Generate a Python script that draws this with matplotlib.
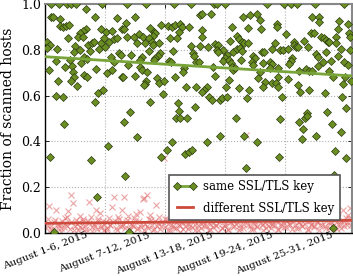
import matplotlib
matplotlib.use("Agg")
import matplotlib.pyplot as plt
from matplotlib.lines import Line2D

plt.rcParams['font.family'] = ['DejaVu Serif']

# x in days since August 1, 2015
same_x = [0.6, 1.4, 2.2, 2.6, 3.1, 5.7, 4.07, 0.63, 0.83, 1.5, 4.97, 7.17, 1.5, 1.83, 2.13, 2.4,
          4.13, 3.8, 3.5, 3.3, 3.83, 5.63, 6.07, 6.73, 7.73, 2.33, 0.23, 0.47, 0.17, 1.17, 3.0,
          2.9, 3.5, 4.33, 4.73, 4.9, 5.57, 5.9, 6.4, 6.9, 7.23, 5.4, 6.0, 4.5, 7.4, 7.63, 6.57,
          6.9, 1.07, 2.5, 3.9, 3.57, 4.23, 0.37, 1.97, 2.73, 2.83, 2.9, 5.13, 6.17, 6.67, 7.67,
          3.9, 4.17, 1.3, 2.63, 3.23, 5.33, 5.83, 1.13, 1.77, 5.0,
          8.2, 10.1, 12.87, 14.63, 8.97, 15.53, 8.1, 7.87, 11.63, 12.3, 12.7, 12.97, 13.53, 13.7,
          14.37, 13.43, 10.53, 10.87, 11.03, 10.77, 8.2, 8.87, 9.37, 9.77, 10.37, 9.2, 10.03,
          10.7, 10.8, 11.37, 12.47, 13.2, 14.6, 15.53, 10.37, 12.8, 8.6, 11.53, 11.3, 11.03,
          10.87, 14.8, 14.87, 9.7, 9.53, 15.1, 15.43, 12.37, 12.6, 8.27, 9.53, 9.7, 10.2, 13.87,
          13.77, 7.8, 9.03, 13.03, 10.1, 9.97, 9.87, 11.2, 11.37, 11.87, 14.13, 15.13, 11.77,
          10.53, 13.3, 15.03, 8.53, 13.37, 13.1, 13.53, 14.2,
          16.9, 17.23, 18.0, 22.17, 15.67, 16.57, 19.77, 20.5, 21.17, 21.5, 23.17, 18.73, 20.33,
          21.57, 15.67, 19.23, 19.43, 19.67, 19.93, 20.33, 18.5, 23.0, 15.67, 16.33, 17.0, 17.33,
          17.17, 17.83, 17.27, 18.83, 19.17, 19.5, 19.67, 21.67, 21.93, 22.67, 18.17, 18.0, 17.77,
          18.43, 18.57, 19.57, 20.83, 21.0, 20.67, 20.77, 21.83, 22.5, 22.67, 22.5, 16.83, 18.67,
          18.83, 19.0, 23.33, 21.5, 21.33, 17.0, 23.33, 18.43, 22.0, 22.67, 23.1, 21.83, 16.17,
          15.9, 15.73, 18.1, 19.43, 20.43, 16.43, 16.67, 17.5, 17.67, 18.23, 20.17, 19.1,
          23.93, 24.6, 25.17, 27.03, 29.93, 26.7, 27.43, 27.43, 29.37, 30.27, 23.2, 24.1, 26.6,
          26.93, 29.27, 29.1, 30.37, 30.5, 27.6, 27.93, 28.1, 28.27, 28.43, 25.93, 26.27, 29.1,
          24.93, 24.93, 25.1, 25.27, 23.5, 23.83, 24.27, 29.6, 30.5, 28.1, 27.1, 27.27, 29.27,
          24.7, 24.6, 24.43, 27.77, 28.6, 29.93, 27.27, 26.1, 26.37, 26.7, 25.43, 28.37, 30.27,
          24.27, 28.77, 30.03, 23.27, 25.27, 29.77, 30.6, 25.5, 26.37, 28.03, 29.7, 23.7, 30.1,
          28.17, 26.17, 26.03, 23.5,
          1.9, 0.5, 4.63, 6.3, 7.9, 8.0, 5.17, 9.17, 11.6, 12.17, 12.67, 14.03, 14.37, 14.7,
          8.37, 0.85, 16.17, 17.5, 19.9, 21.23, 23.43, 20.1, 25.37, 26.2, 25.83, 25.7, 27.1,
          28.7, 29.6, 29.03, 30.1, 28.93, 28.83]
same_y = [1.0, 1.0, 1.0, 1.0, 1.0, 1.0, 0.978, 0.943, 0.943, 0.935, 0.945, 0.938, 0.905, 0.899,
          0.905, 0.910, 0.891, 0.883, 0.874, 0.855, 0.855, 0.893, 0.877, 0.881, 0.890, 0.851,
          0.836, 0.821, 0.807, 0.803, 0.817, 0.792, 0.800, 0.821, 0.829, 0.836, 0.832, 0.851,
          0.836, 0.846, 0.851, 0.803, 0.814, 0.796, 0.785, 0.778, 0.770, 0.748, 0.751, 0.756,
          0.768, 0.741, 0.759, 0.712, 0.724, 0.730, 0.705, 0.683, 0.716, 0.700, 0.712, 0.683,
          0.690, 0.680, 0.665, 0.665, 0.643, 0.613, 0.625, 0.598, 0.595, 0.571,
          1.0, 1.0, 1.0, 1.0, 0.943, 0.953, 0.919, 0.890, 0.909, 0.905, 0.902, 0.909, 0.913,
          0.899, 0.902, 0.880, 0.895, 0.877, 0.873, 0.861, 0.855, 0.855, 0.868, 0.855, 0.851,
          0.829, 0.829, 0.833, 0.821, 0.832, 0.851, 0.853, 0.817, 0.817, 0.795, 0.796, 0.778,
          0.785, 0.773, 0.763, 0.756, 0.785, 0.773, 0.770, 0.756, 0.746, 0.746, 0.751, 0.746,
          0.734, 0.726, 0.712, 0.705, 0.719, 0.705, 0.683, 0.687, 0.683, 0.664, 0.651, 0.646,
          0.676, 0.654, 0.665, 0.639, 0.636, 0.607, 0.573, 0.569, 0.551, 0.527, 0.534, 0.501,
          0.501, 0.501,
          1.0, 1.0, 1.0, 1.0, 0.957, 0.957, 0.943, 0.953, 0.956, 0.931, 0.913, 0.899, 0.895,
          0.891, 0.887, 0.861, 0.846, 0.836, 0.829, 0.832, 0.839, 0.829, 0.858, 0.814, 0.825,
          0.821, 0.800, 0.800, 0.790, 0.792, 0.803, 0.807, 0.796, 0.792, 0.792, 0.803, 0.778,
          0.763, 0.751, 0.756, 0.744, 0.756, 0.775, 0.763, 0.748, 0.734, 0.741, 0.748, 0.738,
          0.719, 0.726, 0.726, 0.712, 0.719, 0.719, 0.705, 0.678, 0.687, 0.683, 0.668, 0.661,
          0.654, 0.654, 0.639, 0.636, 0.625, 0.617, 0.639, 0.632, 0.625, 0.595, 0.581, 0.581,
          0.588, 0.595, 0.588, 0.501,
          1.0, 1.0, 1.0, 1.0, 1.0, 0.943, 0.943, 0.923, 0.928, 0.913, 0.899, 0.868, 0.873,
          0.873, 0.890, 0.858, 0.873, 0.858, 0.855, 0.851, 0.843, 0.833, 0.836, 0.839, 0.814,
          0.829, 0.836, 0.821, 0.814, 0.814, 0.800, 0.800, 0.803, 0.803, 0.800, 0.792, 0.782,
          0.768, 0.775, 0.766, 0.753, 0.738, 0.748, 0.751, 0.748, 0.730, 0.715, 0.708, 0.708,
          0.708, 0.708, 0.734, 0.673, 0.683, 0.683, 0.639, 0.646, 0.651, 0.665, 0.617, 0.625,
          0.613, 0.595, 0.595, 0.544, 0.530, 0.523, 0.501, 0.498,
          0.474, 0.331, 0.317, 0.379, 0.486, 0.248, 0.155, 0.418, 0.330, 0.362, 0.398, 0.343,
          0.352, 0.362, 0.002, 0.004, 0.398, 0.425, 0.425, 0.398, 0.333, 0.284, 0.483, 0.511,
          0.454, 0.410, 0.425, 0.474, 0.439, 0.358, 0.328, 0.253, 0.019]

diff_x = [0.1, 0.25, 0.4, 0.55, 0.7, 0.85, 1.1, 1.25, 1.4, 1.55, 1.7, 1.85,
          2.0, 2.15, 2.3, 2.45, 2.63, 2.83, 2.95, 3.1, 3.25, 3.4, 3.55, 3.7, 3.85,
          4.0, 4.15, 4.3, 4.43, 4.6, 4.75, 4.9, 5.07, 5.2, 5.35, 5.5, 5.65, 5.8, 5.95,
          6.1, 6.25, 6.4, 6.55, 6.73, 6.9, 7.05, 7.2, 7.35, 7.5, 7.67, 7.8, 7.9,
          8.05, 8.2, 8.35, 8.5, 8.65, 8.8, 8.95, 9.1, 9.25, 9.4, 9.53, 9.65, 9.77, 9.9,
          10.05, 10.17, 10.3, 10.45, 10.53, 10.7, 10.85, 11.0, 11.1, 11.25, 11.4, 11.55, 11.7, 11.93,
          12.05, 12.2, 12.35, 12.5, 12.65, 12.8, 12.95, 13.1, 13.25, 13.4, 13.55, 13.7, 13.85,
          14.0, 14.15, 14.3, 14.45, 14.6, 14.75, 14.9, 15.05, 15.2, 15.35, 15.5, 15.65, 15.8,
          15.95, 16.1, 16.25, 16.4, 16.55, 16.7, 16.85, 17.0, 17.15, 17.3, 17.45, 17.6, 17.75, 17.9,
          18.05, 18.2, 18.35, 18.5, 18.65, 18.8, 18.95, 19.1, 19.25, 19.4, 19.55, 19.7, 19.85, 20.1,
          20.2, 20.35, 20.5, 20.65, 20.8, 20.95, 21.1, 21.25, 21.4, 21.55, 21.7, 21.85, 22.0,
          22.15, 22.3, 22.45, 22.6, 22.75, 22.9, 23.05, 23.2, 23.35, 23.5, 23.65, 23.8, 23.95,
          24.1, 24.25, 24.4, 24.55, 24.7, 24.85, 25.0, 25.15, 25.3, 25.45, 25.6, 25.75, 25.9,
          26.05, 26.2, 26.35, 26.5, 26.65, 26.8, 26.95, 27.1, 27.25, 27.4, 27.55, 27.7, 27.85,
          28.0, 28.15, 28.3, 28.45, 28.6, 28.75, 28.9, 29.05, 29.2, 29.35, 29.5, 29.65, 29.83,
          29.95, 30.1, 30.2, 30.33, 30.5, 30.6,
          0.18, 0.62, 0.95, 1.33, 1.62, 1.95, 2.22, 2.55, 2.9, 3.18, 3.47, 3.78, 4.08, 4.37, 4.68,
          4.98, 5.28, 5.58, 5.88, 6.18, 6.48, 6.82, 7.12, 7.42, 7.72, 8.12, 8.42, 8.72, 9.02,
          9.32, 9.6, 9.95, 10.25, 10.62, 10.95, 11.32, 11.62, 11.98, 12.28, 12.58, 12.88, 13.18,
          13.48, 13.78, 14.08, 14.38, 14.68, 14.98, 15.28, 15.58, 15.88, 16.18, 16.48, 16.78,
          17.08, 17.38, 17.68, 17.98, 18.28, 18.58, 18.88, 19.18, 19.48, 19.78, 20.28, 20.58,
          20.88, 21.18, 21.48, 21.78, 22.08, 22.38, 22.68, 22.98, 23.28, 23.58, 23.88, 24.18,
          24.48, 24.78, 25.08, 25.38, 25.68, 25.98, 26.28, 26.58, 26.88, 27.18, 27.48, 27.78,
          28.08, 28.38, 28.68, 28.98, 29.28, 29.58, 29.9, 30.25, 30.45]
diff_y = [0.02, 0.06, 0.118, 0.03, 0.01, 0.045, 0.098, 0.02, 0.035, 0.005, 0.05, 0.025,
          0.04, 0.07, 0.096, 0.015, 0.165, 0.131, 0.03, 0.055, 0.01, 0.045, 0.075, 0.02, 0.06,
          0.03, 0.005, 0.05, 0.136, 0.07, 0.025, 0.04, 0.099, 0.015, 0.06, 0.085, 0.03, 0.05, 0.01,
          0.045, 0.02, 0.065, 0.035, 0.114, 0.158, 0.05, 0.01, 0.07, 0.03, 0.099, 0.04, 0.158,
          0.02, 0.055, 0.075, 0.01, 0.04, 0.03, 0.065, 0.082, 0.015, 0.05, 0.092, 0.025, 0.147, 0.151,
          0.04, 0.165, 0.02, 0.06, 0.077, 0.035, 0.01, 0.05, 0.121, 0.03, 0.07, 0.015, 0.045, 0.328,
          0.025, 0.06, 0.04, 0.01, 0.075, 0.03, 0.05, 0.02, 0.065, 0.035, 0.005, 0.045, 0.08,
          0.03, 0.055, 0.015, 0.04, 0.07, 0.025, 0.05, 0.01, 0.06, 0.035, 0.09, 0.02, 0.045,
          0.065, 0.03, 0.05, 0.01, 0.04, 0.075, 0.025, 0.055, 0.035, 0.005, 0.045, 0.07, 0.02, 0.05,
          0.03, 0.06, 0.015, 0.045, 0.08, 0.025, 0.05, 0.04, 0.065, 0.01, 0.035, 0.055, 0.02, 0.428,
          0.045, 0.07, 0.03, 0.055, 0.015, 0.04, 0.06, 0.025, 0.05, 0.085, 0.035, 0.01, 0.045,
          0.065, 0.03, 0.055, 0.02, 0.04, 0.075, 0.035, 0.05, 0.01, 0.06, 0.03, 0.045, 0.08,
          0.025, 0.055, 0.04, 0.07, 0.015, 0.05, 0.035, 0.065, 0.02, 0.045, 0.09, 0.03, 0.055,
          0.04, 0.07, 0.015, 0.05, 0.035, 0.06, 0.025, 0.08, 0.045, 0.01, 0.055, 0.035, 0.065,
          0.03, 0.05, 0.075, 0.02, 0.045, 0.06, 0.035, 0.055, 0.015, 0.07, 0.04, 0.05, 0.099,
          0.03, 0.065, 0.045, 0.077, 0.107, 0.035,
          0.035, 0.015, 0.055, 0.04, 0.02, 0.065, 0.03, 0.045, 0.012, 0.038, 0.025, 0.05, 0.018,
          0.042, 0.008, 0.03, 0.052, 0.022, 0.04, 0.012, 0.035, 0.048, 0.02, 0.06, 0.028, 0.045,
          0.015, 0.035, 0.05, 0.022, 0.04, 0.01, 0.03, 0.055, 0.018, 0.042, 0.028, 0.06, 0.012,
          0.035, 0.022, 0.05, 0.03, 0.015, 0.045, 0.025, 0.055, 0.035, 0.012, 0.04, 0.028, 0.05,
          0.018, 0.042, 0.03, 0.06, 0.022, 0.038, 0.012, 0.048, 0.03, 0.055, 0.02, 0.04, 0.035,
          0.015, 0.05, 0.028, 0.06, 0.04, 0.02, 0.045, 0.032, 0.055, 0.015, 0.04, 0.025, 0.05,
          0.035, 0.062, 0.02, 0.045, 0.03, 0.055, 0.012, 0.04, 0.028, 0.05, 0.035, 0.065, 0.022,
          0.048, 0.03, 0.058, 0.04, 0.02, 0.05, 0.035, 0.062]

# Trend lines (value at start and end of the month)
trend_x = [0.0, 30.7]
same_trend = [0.770, 0.686]
diff_trend = [0.041, 0.054]

tick_pos = [0, 6, 12, 18, 24]
tick_labels = ["August 1-6, 2015", "August 7-12, 2015", "August 13-18, 2015",
               "August 19-24, 2015", "August 25-31, 2015"]
y_ticks = [0.0, 0.2, 0.4, 0.6, 0.8, 1.0]

green_face = '#6b8e23'
green_line = '#78a43a'
red_line = '#cc4a3c'
red_x = '#e06a6a'

fig = plt.figure(figsize=(3.53, 2.76), dpi=100)
ax = fig.add_axes([0.1275, 0.157, 0.8695, 0.828])

ax.plot(diff_x, diff_y, linestyle='none', marker='x', markersize=4.2, mew=0.8,
        color=red_x, alpha=0.6, zorder=2)
ax.plot(trend_x, diff_trend, color=red_line, lw=2, zorder=3)
ax.plot(same_x, same_y, linestyle='none', marker='D', markersize=4.4,
        markerfacecolor=green_face, markeredgecolor='#2a3a10', markeredgewidth=0.5,
        zorder=4)
ax.plot(trend_x, same_trend, color=green_line, lw=2, zorder=5)

ax.set_xlim(0, 30.7)
ax.set_ylim(0, 1.0)
ax.set_xticks(tick_pos)
ax.set_xticklabels(tick_labels, rotation=21, ha='center', fontsize=7.5)
ax.set_yticks(y_ticks)
ax.set_yticklabels([f"{v:.1f}" for v in y_ticks], fontsize=9)
ax.set_ylabel("Fraction of scanned hosts", fontsize=10)
ax.grid(True, linestyle=':', color='#b0b0b0', lw=0.8)
ax.tick_params(direction='in', top=True, right=True, length=3, width=0.6, pad=3)
ax.tick_params(axis='x', pad=-1.5)
for s in ['left', 'bottom']:
    ax.spines[s].set_color('black')
    ax.spines[s].set_linewidth(1.0)
for s in ['top', 'right']:
    ax.spines[s].set_color('#888888')
    ax.spines[s].set_linewidth(1.5)

handles = [Line2D([], [], color=green_line, lw=2, marker='D', markersize=4.4,
                  markerfacecolor=green_face, markeredgecolor='#2a3a10', markeredgewidth=0.5),
           Line2D([], [], color=red_line, lw=2)]
leg = ax.legend(handles, ["same SSL/TLS key", "different SSL/TLS key"],
                loc='lower right', bbox_to_anchor=(0.961, 0.056), borderaxespad=0,
                fontsize=8.5, numpoints=2, fancybox=False, framealpha=1,
                handlelength=1.9, borderpad=0.45, labelspacing=0.7, handletextpad=0.6)
leg.get_frame().set_edgecolor('#555555')
leg.get_frame().set_linewidth(1.2)
leg.set_zorder(10)

fig.savefig("out.png", dpi=100)
